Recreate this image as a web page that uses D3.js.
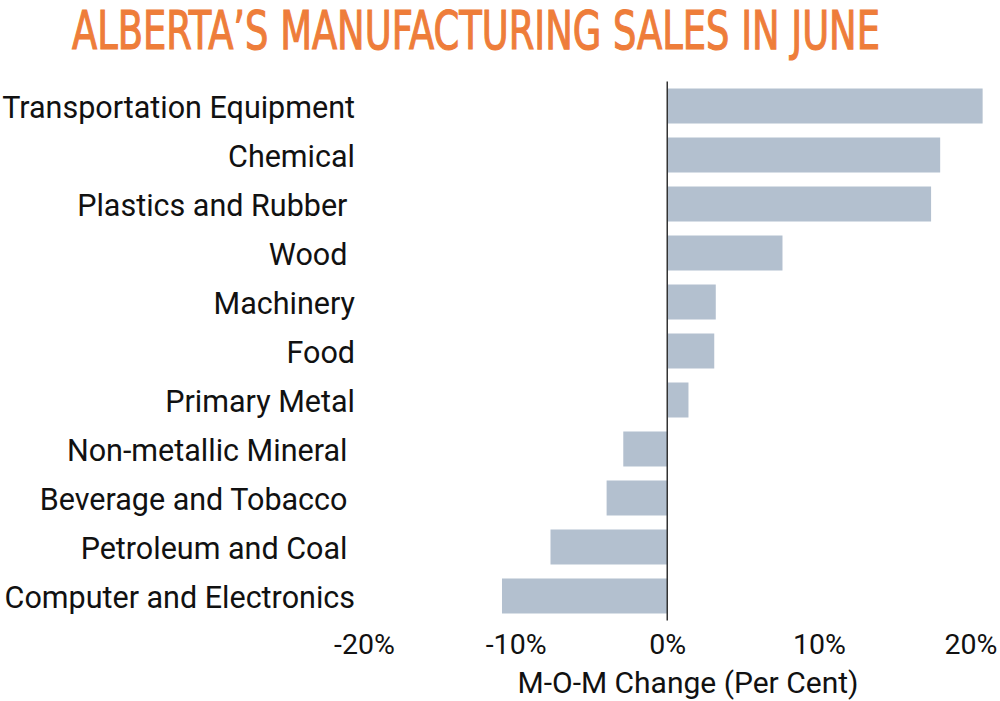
<!DOCTYPE html>
<html>
<head>
<meta charset="utf-8">
<script src="https://cdn.jsdelivr.net/npm/d3@7"></script>
<style>
  html, body { margin: 0; padding: 0; background: #fff; }
  svg { display: block; }
  text { font-family: Roboto, "Noto Sans", sans-serif; }
</style>
</head>
<body>
<svg id="chart" width="1000" height="701"></svg>
<script>
const categories = [
  "Transportation Equipment",
  "Chemical",
  "Plastics and Rubber ",
  "Wood ",
  "Machinery",
  "Food",
  "Primary Metal",
  "Non-metallic Mineral ",
  "Beverage and Tobacco ",
  "Petroleum and Coal ",
  "Computer and Electronics"
];
const values = [20.8, 18.0, 17.4, 7.6, 3.2, 3.1, 1.4, -2.9, -4.0, -7.7, -10.9];
const tickValues = [-20, -10, 0, 10, 20];
const tickLabels = ["-20%", "-10%", "0%", "10%", "20%"];
const titleText = "ALBERTA\u2019S MANUFACTURING SALES IN JUNE";
const axisTitle = "M-O-M Change (Per Cent)";

const svg = d3.select("#chart");

const x = d3.scaleLinear().domain([-20, 20]).range([364, 970.5]);
const y = d3.scaleBand().domain(categories).range([81.5, 620.5])
  .paddingInner(0.2857).paddingOuter(0.143);

// title: pick font size so width fits, then stretch vertically to match cap height
const capH = 38.5, baseY = 48.5;
const title = svg.append("text")
  .attr("x", 72).attr("y", baseY)
  .style("font-family", "'Liberation Sans Narrow', 'DejaVu Sans Condensed', sans-serif")
  .style("font-size", "40px")
  .attr("fill", "#EE7D3A")
  .text(titleText);
const natW = title.node().getComputedTextLength();
const targetW = 808;
const fs = 40 * targetW / natW;
const sy = capH / (fs * 0.729);
title.style("font-size", fs + "px")
  .attr("stroke", "#EE7D3A").attr("stroke-width", 0.9)
  .attr("y", baseY / sy)
  .attr("transform", `scale(1,${sy})`);

// bars
svg.append("g").selectAll("rect").data(values).join("rect")
  .attr("x", d => x(Math.min(0, d)))
  .attr("width", d => Math.abs(x(d) - x(0)))
  .attr("y", (d, i) => y(categories[i]))
  .attr("height", y.bandwidth())
  .attr("fill", "#B3C0CF");

// zero line
svg.append("line")
  .attr("x1", x(0)).attr("x2", x(0))
  .attr("y1", y.range()[0]).attr("y2", y.range()[1])
  .attr("stroke", "#333").attr("stroke-width", 1.5);

// category labels
const yAxis = d3.axisLeft(y).tickSize(0).tickPadding(0);
const gy = svg.append("g").attr("transform", "translate(355,0)").call(yAxis);
gy.select(".domain").remove();
gy.selectAll("text")
  .style("font-family", "Roboto, sans-serif")
  .style("font-size", "30.5px")
  .style("white-space", "pre")
  .attr("fill", "#111")
  .attr("dy", "0.4em");

// x axis
const xAxis = d3.axisBottom(x).tickValues(tickValues)
  .tickFormat((d, i) => tickLabels[i]).tickSize(0).tickPadding(0);
const gx = svg.append("g").attr("transform", "translate(0,633.5)").call(xAxis);
gx.select(".domain").remove();
gx.selectAll("text")
  .style("font-family", "Roboto, sans-serif")
  .style("font-size", "28.5px")
  .attr("fill", "#111")
  .attr("dy", "0.71em");

svg.append("text")
  .attr("x", 688).attr("y", 692.5)
  .attr("text-anchor", "middle")
  .style("font-size", "30px")
  .attr("fill", "#111")
  .text(axisTitle);
</script>
</body>
</html>
